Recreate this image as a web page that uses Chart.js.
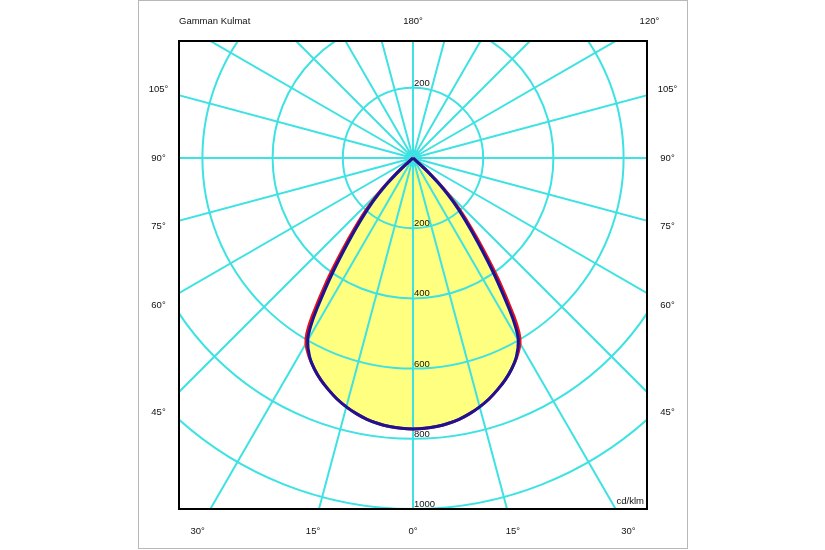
<!DOCTYPE html>
<html>
<head>
<meta charset="utf-8">
<title>Valonjakokäyrä</title>
<script src="https://cdn.jsdelivr.net/npm/chart.js@4.4.1/dist/chart.umd.min.js"></script>
<style>
  html, body { margin: 0; padding: 0; background: #fff; }
  canvas { display: block; }
</style>
</head>
<body>
<canvas id="graph" width="825" height="550"></canvas>
<script>
"use strict";

// gamma angle from nadir (deg) and intensity (cd/klm), symmetric halves
const gammaAngles = [0, 2.5, 5, 7.5, 10, 12.5, 15, 17.5, 20, 22.5, 25, 27.5, 30, 31.25, 32.5, 35, 37.5, 40, 42.5, 45, 47.5, 50, 52.5, 90];
const intensityC90 = [772, 771, 768, 763, 756, 746, 734, 720, 703, 685, 664, 638, 600, 563, 510, 400, 305, 232, 170, 110, 45, 0, 0, 0];
const intensityC0 = [772, 771, 768, 763, 756, 746, 734, 720, 703, 685, 664, 640, 610, 582, 535, 428, 330, 252, 188, 125, 58, 5, 0, 0];

const circleTicks = [200, 400, 600, 800, 1000, 1200, 1400];
const valueLabels = [200, 400, 600, 800, 1000];
const upperValueLabels = [200];
const sideAngleLabels = [105, 90, 75, 60, 45];
const bottomAngleLabels = [-30, -15, 0, 15, 30];
const topAngleLabels = [180, 120];
const spokeStep = 15;

const gridColor = "#3fe2e2";
const textFont = "9.5px 'Liberation Sans', Arial, sans-serif";

function toXY(gamma, value) {
  const r = (gamma * Math.PI) / 180;
  return { x: value * Math.sin(r), y: -value * Math.cos(r) };
}

function polarPoints(values) {
  const pts = [];
  for (let i = gammaAngles.length - 1; i > 0; i--) {
    pts.push(toXY(-gammaAngles[i], values[i]));
  }
  for (let i = 0; i < gammaAngles.length; i++) {
    pts.push(toXY(gammaAngles[i], values[i]));
  }
  return pts;
}

const polarGrid = {
  id: "polarGrid",
  beforeDraw(chart) {
    const ctx = chart.ctx;
    ctx.save();
    ctx.fillStyle = "#fff";
    ctx.fillRect(0, 0, chart.width, chart.height);
    ctx.strokeStyle = "#b8b8b8";
    ctx.lineWidth = 1;
    ctx.strokeRect(138.5, 0.5, 549, 548);
    ctx.restore();
  },
  beforeDatasetsDraw(chart) {
    const { ctx, chartArea: a, scales: { x, y } } = chart;
    const cx = x.getPixelForValue(0);
    const cy = y.getPixelForValue(0);
    ctx.save();
    ctx.beginPath();
    ctx.rect(a.left, a.top, a.right - a.left, a.bottom - a.top);
    ctx.clip();
    ctx.strokeStyle = gridColor;
    ctx.lineWidth = 2;
    circleTicks.forEach((v) => {
      const r = x.getPixelForValue(v) - cx;
      ctx.beginPath();
      ctx.arc(cx, cy, r, 0, Math.PI * 2);
      ctx.stroke();
    });
    ctx.beginPath();
    for (let g = 0; g < 360; g += spokeStep) {
      const rad = (g * Math.PI) / 180;
      ctx.moveTo(cx, cy);
      ctx.lineTo(cx + 1200 * Math.sin(rad), cy + 1200 * Math.cos(rad));
    }
    ctx.stroke();
    ctx.restore();
  },
  afterDatasetsDraw(chart) {
    const { ctx, chartArea: a, scales: { x, y } } = chart;
    const cx = x.getPixelForValue(0);
    const cy = y.getPixelForValue(0);
    ctx.save();
    ctx.strokeStyle = "#000";
    ctx.lineWidth = 2;
    ctx.strokeRect(a.left, a.top, a.right - a.left, a.bottom - a.top);

    ctx.fillStyle = "#111";
    ctx.font = textFont;

    // intensity values along the vertical axis
    ctx.textAlign = "left";
    ctx.textBaseline = "alphabetic";
    valueLabels.forEach((v) => {
      ctx.fillText(String(v), cx + 1, y.getPixelForValue(-v) - 2);
    });
    upperValueLabels.forEach((v) => {
      ctx.fillText(String(v), cx + 1, y.getPixelForValue(v) - 2);
    });
    ctx.textAlign = "right";
    ctx.fillText("cd/klm", a.right - 3, a.bottom - 5);

    // gamma labels where the spokes meet the label band
    ctx.textBaseline = "middle";
    ctx.textAlign = "left";
    ctx.fillText("Gamman Kulmat", a.left, a.top - 19.5);
    ctx.textAlign = "center";
    const topY = a.top - 19.5;
    topAngleLabels.forEach((g) => {
      const rad = (g * Math.PI) / 180;
      const t = (topY - cy) / Math.cos(rad);
      ctx.fillText(g + "°", cx + t * Math.sin(rad), topY);
    });
    const side = a.left - 20.5;
    sideAngleLabels.forEach((g) => {
      const rad = (g * Math.PI) / 180;
      const d = cx - side;
      const ly = cy + (d / Math.sin(rad)) * Math.cos(rad);
      ctx.fillText(g + "°", side, ly);
      ctx.fillText(g + "°", cx + d, ly);
    });
    const botY = a.bottom + 22;
    bottomAngleLabels.forEach((g) => {
      const rad = (g * Math.PI) / 180;
      const lx = cx + (botY - cy) * Math.tan(rad);
      ctx.fillText(Math.abs(g) + "°", lx, botY);
    });
    ctx.restore();
  },
};

document.addEventListener("DOMContentLoaded", () => {
  const ctx = document.getElementById("graph").getContext("2d");
  new Chart(ctx, {
    type: "scatter",
    data: {
      datasets: [
        {
          label: "C90 - C270",
          data: polarPoints(intensityC90),
          borderColor: "#1a1496",
          backgroundColor: "#ffff80",
          borderWidth: 3,
          fill: "shape",
          showLine: true,
          pointRadius: 0,
          tension: 0.3,
        },
        {
          label: "C0 - C180",
          data: polarPoints(intensityC0),
          borderColor: "#e5101c",
          backgroundColor: "#ffff80",
          borderWidth: 3,
          fill: "shape",
          showLine: true,
          pointRadius: 0,
          tension: 0.3,
        },
      ],
    },
    options: {
      responsive: false,
      animation: false,
      devicePixelRatio: 1,
      layout: { padding: { left: 179, right: 178, top: 41, bottom: 41 } },
      scales: {
        x: { type: "linear", min: -666.67, max: 666.67, display: false },
        y: { type: "linear", min: -1000, max: 333.33, display: false },
      },
      plugins: {
        legend: { display: false },
        tooltip: { enabled: false },
        filler: { drawTime: "beforeDatasetsDraw" },
      },
    },
    plugins: [polarGrid],
  });
});
</script>
</body>
</html>
